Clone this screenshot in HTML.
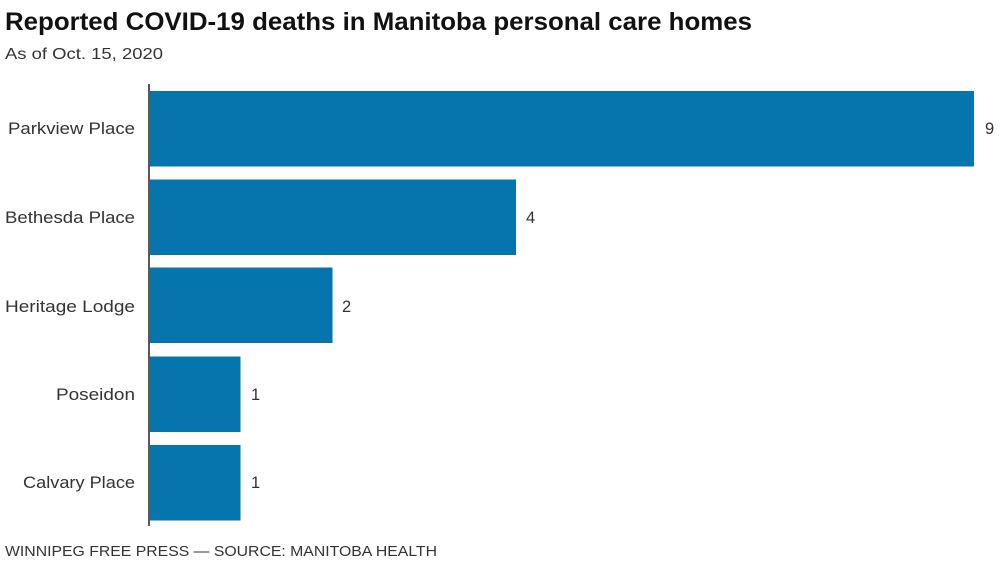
<!DOCTYPE html>
<html>
<head>
<meta charset="utf-8">
<style>
  html, body { margin:0; padding:0; background:#fff; }
  body { width:1000px; height:561px; overflow:hidden; }
  svg { display:block; }
  text { font-family: "Liberation Sans", "DejaVu Sans", sans-serif; }
</style>
</head>
<body>
<svg width="1000" height="561" viewBox="0 0 1000 561" xmlns="http://www.w3.org/2000/svg">
  <rect width="1000" height="561" fill="#ffffff"/>
  <text x="5" y="30" font-size="25" font-weight="bold" fill="#111" textLength="747" lengthAdjust="spacingAndGlyphs">Reported COVID-19 deaths in Manitoba personal care homes</text>
  <text x="5" y="59" font-size="16" fill="#333" textLength="158" lengthAdjust="spacingAndGlyphs">As of Oct. 15, 2020</text>

  <g fill="#0675ad">
    <rect x="150" y="91" width="824" height="75.5"/>
    <rect x="150" y="179.5" width="366" height="75.5"/>
    <rect x="150" y="267.5" width="182.5" height="75.5"/>
    <rect x="150" y="356.5" width="90.5" height="75.5"/>
    <rect x="150" y="445" width="90.5" height="75.5"/>
  </g>
  <line x1="149" y1="84" x2="149" y2="526" stroke="#222" stroke-width="1.5"/>

  <g font-size="16.5" fill="#333" text-anchor="end">
    <text x="135" y="134" textLength="127" lengthAdjust="spacingAndGlyphs">Parkview Place</text>
    <text x="135" y="223" textLength="130" lengthAdjust="spacingAndGlyphs">Bethesda Place</text>
    <text x="135" y="312" textLength="130" lengthAdjust="spacingAndGlyphs">Heritage Lodge</text>
    <text x="135" y="400" textLength="79" lengthAdjust="spacingAndGlyphs">Poseidon</text>
    <text x="135" y="488" textLength="112" lengthAdjust="spacingAndGlyphs">Calvary Place</text>
  </g>

  <g font-size="16.5" fill="#333">
    <text x="985" y="134">9</text>
    <text x="526" y="223">4</text>
    <text x="342" y="312">2</text>
    <text x="251" y="400">1</text>
    <text x="251" y="488">1</text>
  </g>

  <text x="5" y="556" font-size="15" fill="#333" textLength="432" lengthAdjust="spacingAndGlyphs">WINNIPEG FREE PRESS — SOURCE: MANITOBA HEALTH</text>
</svg>
</body>
</html>
